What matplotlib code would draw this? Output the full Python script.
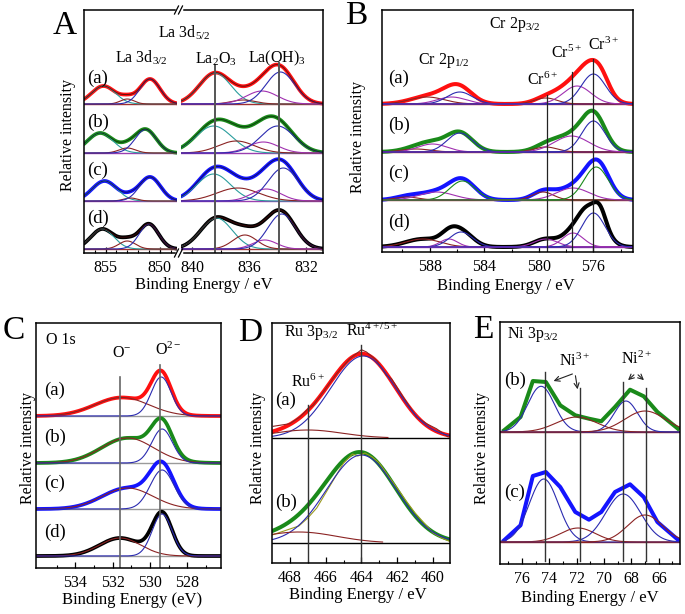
import numpy as np
import matplotlib
matplotlib.use('Agg')
import matplotlib.pyplot as plt
from matplotlib.lines import Line2D

plt.rcParams['font.family'] = ['Liberation Serif', 'DejaVu Serif']
plt.rcParams['mathtext.fontset'] = 'custom'
plt.rcParams['mathtext.rm'] = 'Liberation Serif'
plt.rcParams['mathtext.it'] = 'Liberation Serif:italic'

W, H = 685, 614
fig = plt.figure(figsize=(W / 100, H / 100), dpi=100)

# ---------------- data ----------------
# Panel A : La 3d (left segment La 3d3/2, right segment La 3d5/2)
A_names = ['(a)', '(b)', '(c)', '(d)']
A_thick_colors = ['#ff1010', '#1a8a1a', '#1414ff', '#000000']
A_fit_colors = ['#6a1010', '#0f3f0f', '#10106a', '#3a0a0a']
A_base_px = [104, 153, 201, 249]
A_base_colors = ['#a03030', '#9a40b0', '#9a40b0', '#a03030']
A_L_center = [[855.2, 853.0, 850.9], [855.5, 853.0, 851.3], [855.1, 852.7, 850.9], [855.3, 853.0, 851.0]]
A_L_height = [[18, 5, 25], [20, 5, 23.5], [20, 3, 24], [20, 8, 25]]
A_L_fwhm = [[2.6, 1.5, 2.2], [2.8, 1.8, 2.3], [2.7, 1.5, 2.3], [2.5, 1.8, 2.1]]
A_L_colors = ['#2a9d9d', '#8b2323', '#2b2bb0']
A_R_center = [[838.4, 836.4, 835.1, 833.8], [838.5, 836.9, 835.0, 834.0],
              [838.5, 836.8, 834.8, 833.6], [838.3, 836.3, 834.9, 833.7]]
A_R_height = [[31, 4, 13, 32], [27, 12, 11, 27], [27, 13, 12, 33], [31, 14, 9, 35]]
A_R_fwhm = [[2.6, 2.0, 2.6, 2.4], [3.0, 3.0, 2.5, 2.8], [2.8, 3.5, 2.4, 2.5], [2.6, 2.0, 2.0, 2.3]]
A_R_colors = ['#2a9d9d', '#8b2323', '#a030b0', '#2b2bb0']
A_lines_eV = [838.4, 833.9]
A_lines_top_px = [65, 63]

# Panel B : Cr 2p
B_names = ['(a)', '(b)', '(c)', '(d)']
B_thick_colors = ['#ff1010', '#1a8a1a', '#1414ff', '#000000']
B_base_px = [104, 152, 200, 247]
B_base_colors = ['#a03030', '#a03030', '#a03030', '#9a40b0']
B_center = [[588.2, 586.4, 585.8, 579.5, 577.2, 576.0],
            [589.0, 587.8, 585.8, 579.5, 577.6, 576.0],
            [589.7, 587.5, 585.6, 579.7, 577.5, 575.8],
            [588.5, 586.6, 585.7, 579.5, 577.5, 576.0]]
B_height = [[7, 7, 12, 6, 18, 30],
            [3, 8, 19, 5, 16, 31],
            [3, 8, 19, 8, 12, 33],
            [8, 8, 15, 8, 14, 34]]
B_fwhm = [[3.0, 2.5, 2.2, 2.0, 2.4, 2.1],
          [2.5, 2.5, 2.2, 2.0, 3.0, 2.0],
          [2.0, 3.0, 2.2, 1.8, 2.8, 2.1],
          [3.0, 1.5, 2.0, 2.0, 1.8, 2.0]]
B_comp_colors = [['#8b2323', '#a030b0', '#2b2bb0', '#8b2323', '#a030b0', '#2b2bb0'],
                 ['#8b2323', '#a030b0', '#2b2bb0', '#8b2323', '#a030b0', '#2b2bb0'],
                 ['#8b2323', '#a030b0', '#1a8a1a', '#8b2323', '#a030b0', '#1a8a1a'],
                 ['#8b2323', '#a030b0', '#2b2bb0', '#a030b0', '#a030b0', '#2b2bb0']]
# residual intensity of the measured envelope not covered by the drawn components
B_extra_center = [[578.3, 575.4], [575.7], [575.4], [575.5, 576.7]]
B_extra_height = [[5, 8], [3], [4], [12, 6]]
B_extra_fwhm = [[2.0, 1.4], [1.6], [1.4], [1.0, 1.2]]
B_lines_eV = [579.4, 577.55, 576.0]
B_lines_top_px = [95, 72, 59]

# Panel C : O 1s  (components: O-, O2-)
C_names = ['(a)', '(b)', '(c)', '(d)']
C_thick_colors = ['#ff1010', '#1a8a1a', '#1414ff', '#000000']
C_base_px = [416, 463, 509, 556]
C_center = [[531.5, 529.4], [531.2, 529.35], [531.2, 529.35], [531.6, 529.35]]
C_height = [[18.5, 39], [25, 34], [21, 39], [18, 42]]
C_fwhm = [[3.4, 1.25], [3.3, 1.3], [3.2, 1.5], [2.6, 1.25]]
C_comp_colors = ['#8b2323', '#2b2bb0']
C_lines_eV = [531.6, 529.45]
C_lines_top_px = [377, 365]

# Panel D : Ru 3p3/2 (components: Ru4+/5+, Ru6+)
D_names = ['(a)', '(b)']
D_thick_colors = ['#ff1010', '#1a8a1a']
D_base_px = [438, 543]
D_center = [[463.9, 467.0], [464.0, 467.5]]
D_height = [[82, 8], [88, 11]]
D_fwhm = [[4.3, 4.5], [4.6, 5.0]]
D_ru6_end = [462.5, 462.8]
D_raw_a_eV = [468.93, 468.0, 467.44, 466.98, 466.7, 466.14, 465.39, 464.65, 464.0,
              463.72, 463.16, 462.6, 462.32, 461.67, 460.92, 460.36, 459.81, 459.15]
D_raw_a_h = [11.7, 14.3, 21, 29.3, 32.7, 46, 64.3, 79.3, 88.3,
             86, 77.7, 62.7, 59.3, 41, 21, 14.3, 9.3, 1]
D_raw_b_eV = [469.0, 467.5, 467.0, 466.5, 466.0, 465.5, 465.0, 464.5, 464.2, 463.8,
              463.4, 463.0, 462.5, 462.0, 461.5, 461.0, 460.5, 460.0, 459.5, 459.0]
D_raw_b_h = [8, 17, 25, 35, 50, 65, 80, 89, 87, 90, 86, 80, 67, 55, 42, 30, 20, 10, 5, 1]
D_lines_eV = [467.0, 464.0]
D_lines_top_px = [405, 345]

# Panel E : Ni 3p3/2
E_names = ['(b)', '(c)']
E_thick_colors = ['#1a8a1a', '#1414ff']
E_base_px = [432, 542]
E_data_eV = [77.3, 76.1, 75.2, 74.25, 73.2, 72.1, 71.1, 70.2, 69.2, 68.1, 67.1, 66.1, 64.6]
E_data_b = [1.7, 15, 51, 50, 26.7, 16.7, 13.3, 10.7, 25, 42.3, 35.7, 20, 3.3]
E_data_c = [1.7, 16.7, 66, 70, 55, 30, 22.3, 30, 50, 57.7, 45, 20, 2.3]
E_center = [[74.6, 72.0, 68.4, 67.0], [74.4, 71.9, 68.6, 67.0]]
E_height = [[45.7, 15, 31, 21], [63, 14, 48, 27]]
E_fwhm = [[2.3, 3.5, 2.0, 3.5], [2.5, 3.0, 3.0, 3.0]]
E_comp_colors = ['#2b2bb0', '#8b2323', '#2b2bb0', '#8b2323']
E_lines_eV = [74.3, 71.75, 68.6, 66.9]
E_lines_top_px = [372, 388, 382, 388]

# ---------------- helpers ----------------
def gauss(x, c, h, w):
    return h * np.exp(-4 * np.log(2) * ((x - c) / w) ** 2)


def add_ax(l, t, r, b):
    ax = fig.add_axes([l / W, 1 - b / H, (r - l) / W, (b - t) / H])
    ax.set_ylim(0, b - t)
    ax.set_yticks([])
    for s in ax.spines.values():
        s.set_linewidth(1.1)
    ax.tick_params(axis='x', direction='in', length=4, width=0.9, labelsize=11.5, pad=5)
    ax.tick_params(axis='x', which='minor', direction='in', length=2.5, width=0.8)
    return ax


def ftext(x, y, s, size=11.5, **kw):
    kw.setdefault('ha', 'center')
    kw.setdefault('va', 'center')
    fig.text(x / W, 1 - y / H, s, fontsize=size, **kw)


def fline(x0, y0, x1, y1, **kw):
    fig.add_artist(Line2D([x0 / W, x1 / W], [1 - y0 / H, 1 - y1 / H], transform=fig.transFigure, **kw))


def farrow(x0, y0, x1, y1):
    fig.add_artist(matplotlib.patches.FancyArrowPatch((x0 / W, 1 - y0 / H), (x1 / W, 1 - y1 / H),
                                                      transform=fig.transFigure, arrowstyle='->',
                                                      mutation_scale=9, lw=0.8, color='#222222'))


THICK = 2.3
THIN = 0.8

# ---------------- Panel A ----------------
A_bot = 253
axL = add_ax(84, 10, 177, A_bot)
axR = add_ax(181, 10, 323, A_bot)
axL.set_xlim(857.0, 848.4)
axR.set_xlim(840.8, 830.8)
axL.spines['right'].set_visible(False)
axR.spines['left'].set_visible(False)
axL.set_xticks([855, 850])
axL.set_xticks([856, 854, 853, 852, 851, 849], minor=True)
axR.set_xticks([840, 836, 832])
axR.set_xticks([838, 834], minor=True)
xl = np.linspace(857.0, 848.4, 400)
xr = np.linspace(840.8, 830.8, 400)
for i in range(4):
    off = A_bot - A_base_px[i]
    for ax, x, cen, hei, fw, cols in [(axL, xl, A_L_center[i], A_L_height[i], A_L_fwhm[i], A_L_colors),
                                      (axR, xr, A_R_center[i], A_R_height[i], A_R_fwhm[i], A_R_colors)]:
        comps = [gauss(x, c, h, w) for c, h, w in zip(cen, hei, fw)]
        tot = np.sum(comps, axis=0)
        ax.axhline(off, color=A_base_colors[i], lw=1.0)
        ax.plot(x, off + tot, color=A_thick_colors[i], lw=THICK + 0.4, solid_capstyle='round')
        for comp, col in zip(comps, cols):
            ax.plot(x, off + comp, color=col, lw=THIN)
        ax.plot(x, off + tot, color=A_fit_colors[i], lw=0.7)
for e, top in zip(A_lines_eV, A_lines_top_px):
    axR.plot([e, e], [0, A_bot - top], color='#555555', lw=1.4)
# break marks
for yb in (10, A_bot):
    fline(177, yb, 181, yb, color='white', lw=2.5)
    fline(174.5, yb + 4, 178.5, yb - 4, color='black', lw=0.9)
    fline(178.5, yb + 4, 182.5, yb - 4, color='black', lw=0.9)

ftext(65, 26, 'A', size=24)
ftext(184, 33, 'La 3d$\\mathregular{_{5/2}}$')
ftext(141, 58, 'La 3d$\\mathregular{_{3/2}}$')
ftext(216, 59, 'La$\\mathregular{_2}$O$\\mathregular{_3}$')
ftext(277, 58, 'La(OH)$\\mathregular{_3}$')
for nm, y in zip(A_names, [78, 122, 170, 218]):
    ftext(98, y, nm, size=13.5)
ftext(204, 285, 'Binding Energy / eV', size=12)
ftext(68, 135, 'Relative intensity', size=11.5, rotation=90)

# ---------------- Panel B ----------------
B_bot = 252
axB = add_ax(382, 10, 633, B_bot)
axB.set_xlim(591.5, 573.1)
axB.set_xticks([588, 584, 580, 576])
axB.set_xticks([590, 586, 582, 578, 574], minor=True)
xb = np.linspace(591.5, 573.1, 600)
for i in range(4):
    off = B_bot - B_base_px[i]
    comps = [gauss(xb, c, h, w) for c, h, w in zip(B_center[i], B_height[i], B_fwhm[i])]
    extra = [gauss(xb, c, h, w) for c, h, w in zip(B_extra_center[i], B_extra_height[i], B_extra_fwhm[i])]
    tot = np.sum(comps, axis=0) + np.sum(extra, axis=0)
    axB.axhline(off, color=B_base_colors[i], lw=1.0)
    axB.plot(xb, off + tot, color=B_thick_colors[i], lw=THICK + 0.6)
    for comp, col in zip(comps, B_comp_colors[i]):
        axB.plot(xb, off + comp, color=col, lw=THIN)
for e, top in zip(B_lines_eV, B_lines_top_px):
    axB.plot([e, e], [0, B_bot - top], color='#222222', lw=0.9)
ftext(356, 16, 'B', size=24)
ftext(515, 25, 'Cr 2p$\\mathregular{_{3/2}}$')
ftext(444, 60, 'Cr 2p$\\mathregular{_{1/2}}$')
ftext(543, 80, 'Cr$\\mathregular{^{6+}}$')
ftext(567, 53, 'Cr$\\mathregular{^{5+}}$')
ftext(604, 45, 'Cr$\\mathregular{^{3+}}$')
for nm, y in zip(B_names, [78, 125, 173, 222]):
    ftext(399, y, nm, size=13.5)
ftext(506, 286, 'Binding Energy / eV', size=12)
ftext(358, 137, 'Relative intensity', size=11.5, rotation=90)

# ---------------- Panel C ----------------
C_bot = 568
axC = add_ax(36, 323, 221, C_bot)
axC.set_xlim(536.1, 526.2)
axC.set_xticks([534, 532, 530, 528])
axC.set_xticks([535, 533, 531, 529, 527], minor=True)
xc = np.linspace(536.1, 526.2, 500)
for i in range(4):
    off = C_bot - C_base_px[i]
    comps = [gauss(xc, c, h, w) for c, h, w in zip(C_center[i], C_height[i], C_fwhm[i])]
    tot = np.sum(comps, axis=0)
    axC.axhline(off, color='#9a9a9a', lw=1.0)
    axC.plot(xc, off + tot, color=C_thick_colors[i], lw=THICK + 0.4)
    for comp, col in zip(comps, C_comp_colors):
        axC.plot(xc, off + comp, color=col, lw=THIN)
for e, top in zip(C_lines_eV, C_lines_top_px):
    axC.plot([e, e], [0, C_bot - top], color='#666666', lw=1.2)
ftext(14, 331, 'C', size=24)
ftext(61, 340, 'O 1s')
ftext(122, 353, 'O$\\mathregular{^{-}}$')
ftext(168, 350, 'O$\\mathregular{^{2-}}$')
for nm, y in zip(C_names, [390, 437, 483, 532]):
    ftext(55, y, nm, size=13.5)
ftext(132, 600, 'Binding Energy (eV)', size=12)
ftext(28, 448, 'Relative intensity', size=11.5, rotation=90)

# ---------------- Panel D ----------------
D_bot = 563
axD = add_ax(272, 323, 450, D_bot)
axD.set_xlim(469.0, 459.05)
axD.set_xticks([468, 466, 464, 462, 460])
axD.set_xticks([467, 465, 463, 461], minor=True)
xd = np.linspace(469.0, 459.05, 500)
D_raw = [(D_raw_a_eV, D_raw_a_h, '#8b2323'), (D_raw_b_eV, D_raw_b_h, '#9a9a20')]
for i in range(2):
    off = D_bot - D_base_px[i]
    main = gauss(xd, D_center[i][0], D_height[i][0], D_fwhm[i][0])
    ru6 = gauss(xd, D_center[i][1], D_height[i][1], D_fwhm[i][1])
    tot = main + ru6
    axD.axhline(off, color='black', lw=1.0)
    axD.plot(xd, off + tot, color=D_thick_colors[i], lw=THICK + 0.6)
    rx, rh, rc = D_raw[i]
    axD.plot(rx, off + np.array(rh), color=rc, lw=THIN)
    axD.plot(xd, off + main, color='#2b2bb0', lw=THIN)
    m = xd >= D_ru6_end[i]
    axD.plot(xd[m], off + ru6[m], color='#8b2323', lw=THIN)
for e, top in zip(D_lines_eV, D_lines_top_px):
    axD.plot([e, e], [0, D_bot - top], color='#333333', lw=1.0)
ftext(250, 333, 'D', size=24)
ftext(311, 333, 'Ru 3p$\\mathregular{_{3/2}}$')
ftext(372, 331, 'Ru$\\mathregular{^{4+/5+}}$')
ftext(308, 382, 'Ru$\\mathregular{^{6+}}$')
for nm, y in zip(D_names, [400, 502]):
    ftext(286, y, nm, size=13.5)
ftext(358, 595, 'Binding Energy / eV', size=12)
ftext(258, 448, 'Relative intensity', size=11.5, rotation=90)

# ---------------- Panel E ----------------
E_bot = 564
axE = add_ax(500, 322, 680, E_bot)
axE.set_xlim(77.6, 64.45)
axE.set_xticks([76, 74, 72, 70, 68, 66])
axE.set_xticks([77, 75, 73, 71, 69, 67, 65], minor=True)
xe = np.linspace(77.6, 64.45, 500)
E_data = [E_data_b, E_data_c]
for i in range(2):
    off = E_bot - E_base_px[i]
    comps = [gauss(xe, c, h, w) for c, h, w in zip(E_center[i], E_height[i], E_fwhm[i])]
    axE.axhline(off, color='#8b2323', lw=1.0)
    axE.plot(E_data_eV, off + np.array(E_data[i]), color=E_thick_colors[i], lw=THICK + 0.6)
    for comp, col in zip(comps, E_comp_colors):
        axE.plot(xe, off + comp, color=col, lw=THIN)
for e, top in zip(E_lines_eV, E_lines_top_px):
    axE.plot([e, e], [3, E_bot - top], color='#333333', lw=1.0)
ftext(483, 330, 'E', size=24)
ftext(533, 335, 'Ni 3p$\\mathregular{_{3/2}}$')
ftext(575, 361, 'Ni$\\mathregular{^{3+}}$')
ftext(637, 359, 'Ni$\\mathregular{^{2+}}$')
farrow(575, 373, 551, 382)
farrow(575, 373, 578, 392)
farrow(636, 373, 626, 382)
farrow(636, 373, 646, 382)
for nm, y in zip(E_names, [380, 492]):
    ftext(515, y, nm, size=13.5)
ftext(590, 598, 'Binding Energy / eV', size=12)
ftext(482, 448, 'Relative intensity', size=11.5, rotation=90)

fig.savefig('out.png', dpi=100)
